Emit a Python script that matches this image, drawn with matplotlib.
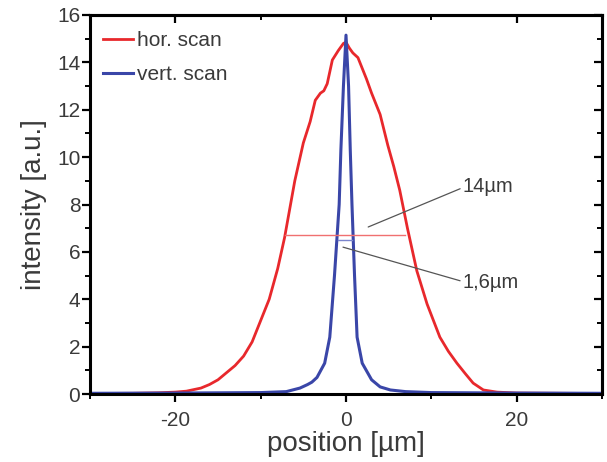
import matplotlib
matplotlib.use("Agg")
import matplotlib.pyplot as plt
from matplotlib.ticker import MultipleLocator

plt.rcParams['font.family'] = ['Liberation Sans', 'DejaVu Sans']
plt.rcParams['axes.unicode_minus'] = False

# horizontal scan profile
hor_x = [-30, -25, -22, -20, -18.7, -17, -16, -15, -14, -13, -12, -11, -10, -9, -8,
         -7.2, -6.5, -6, -5, -4.2, -3.6, -3.0, -2.6, -2.2, -1.6, -0.9, -0.3, 0,
         0.4, 0.8, 1.4, 2.4, 3.0, 4.0, 4.9, 5.6, 6.3, 7.2, 8.3, 9.5, 11.0, 12.0,
         13.0, 14.0, 14.9, 16.1, 17.7, 20, 25, 30]
hor_y = [0.02, 0.03, 0.05, 0.08, 0.12, 0.25, 0.4, 0.6, 0.9, 1.2, 1.6, 2.2, 3.1, 4.0, 5.3,
         6.6, 8.0, 9.0, 10.6, 11.5, 12.4, 12.7, 12.8, 13.1, 14.1, 14.5, 14.8, 14.85,
         14.6, 14.4, 14.2, 13.3, 12.7, 11.8, 10.5, 9.6, 8.6, 7.0, 5.2, 3.8, 2.4, 1.8,
         1.3, 0.85, 0.46, 0.17, 0.08, 0.04, 0.03, 0.02]

# vertical scan profile
vert_x = [-30, -20, -10, -7, -5.4, -4.5, -4.0, -3.4, -2.5, -1.9, -1.35, -0.8, -0.6,
          -0.3, 0, 0.3, 0.5, 0.7, 1.0, 1.3, 1.9, 3.0, 4.0, 5.2, 7, 10, 20, 30]
vert_y = [0.03, 0.04, 0.06, 0.1, 0.25, 0.4, 0.5, 0.7, 1.3, 2.4, 5.0, 8.0, 10.3,
          13.0, 15.15, 13.0, 10.3, 8.0, 5.0, 2.4, 1.3, 0.6, 0.3, 0.17, 0.1, 0.06, 0.04, 0.03]

# full widths at half maximum
hor_fwhm = 14.0
hor_center = -0.1
hor_half = 6.7
vert_fwhm = 1.6
vert_center = -0.1
vert_half = 6.5

series_labels = ["hor. scan", "vert. scan"]
fwhm_labels = ["14µm", "1,6µm"]

text_color = '#3a3a3a'
red = '#e8282c'
blue = '#3a46a8'

fig = plt.figure(figsize=(6.07, 4.62), dpi=100)
ax = fig.add_axes([90 / 607, 1 - 394 / 462, 512 / 607, 379 / 462])

ax.plot(hor_x, hor_y, color=red, lw=2.0, label=series_labels[0])
ax.plot(vert_x, vert_y, color=blue, lw=2.2, label=series_labels[1])

ax.plot([hor_center - hor_fwhm / 2, hor_center + hor_fwhm / 2], [hor_half, hor_half],
        color='#f07070', lw=1.0)
ax.plot([vert_center - vert_fwhm / 2, vert_center + vert_fwhm / 2], [vert_half, vert_half],
        color='#7a84cc', lw=1.0)

ax.annotate(fwhm_labels[0], xy=(2.6, 7.05), xytext=(13.7, 8.75),
            fontsize=14.5, color=text_color, va='center', ha='left',
            arrowprops=dict(arrowstyle='-', color='#555555', lw=0.9,
                            shrinkA=0, shrinkB=0, relpos=(-0.05, 0.4)))
ax.annotate(fwhm_labels[1], xy=(-0.35, 6.2), xytext=(13.7, 4.7),
            fontsize=14.5, color=text_color, va='center', ha='left',
            arrowprops=dict(arrowstyle='-', color='#555555', lw=0.9,
                            shrinkA=0, shrinkB=0, relpos=(-0.05, 0.6)))

ax.set_xlim(-30, 30)
ax.set_ylim(0, 16)
ax.xaxis.set_major_locator(MultipleLocator(20))
ax.xaxis.set_minor_locator(MultipleLocator(10))
ax.yaxis.set_major_locator(MultipleLocator(2))
ax.yaxis.set_minor_locator(MultipleLocator(1))

for s in ax.spines.values():
    s.set_linewidth(2.2)
    s.set_color('black')

ax.tick_params(which='major', direction='out', length=6, width=1.6,
               labelsize=15, labelcolor=text_color)
ax.tick_params(which='minor', direction='out', length=3.5, width=1.4)
ax.tick_params(axis='y', which='major', pad=1)
ax.tick_params(axis='x', which='major', pad=6)

top = ax.secondary_xaxis('top')
top.xaxis.set_major_locator(MultipleLocator(20))
top.xaxis.set_minor_locator(MultipleLocator(10))
top.tick_params(which='major', direction='in', length=6, width=1.6, labeltop=False)
top.tick_params(which='minor', direction='in', length=3.5, width=1.4)
top.spines['top'].set_linewidth(2.2)

right = ax.secondary_yaxis('right')
right.yaxis.set_major_locator(MultipleLocator(2))
right.yaxis.set_minor_locator(MultipleLocator(1))
right.tick_params(which='major', direction='in', length=6, width=1.6, labelright=False)
right.tick_params(which='minor', direction='in', length=3.5, width=1.4)
right.spines['right'].set_linewidth(2.2)

ax.set_xlabel("position [µm]", fontsize=20, color=text_color, labelpad=1)
ax.set_ylabel("intensity [a.u.]", fontsize=20, color=text_color, labelpad=7)

leg = ax.legend(loc='upper left', bbox_to_anchor=(-0.01, 1.005), frameon=False,
                fontsize=15, handlelength=1.45, handletextpad=0.22,
                labelspacing=0.75, borderaxespad=0.45, labelcolor=text_color)

fig.savefig("out.png", dpi=100)
